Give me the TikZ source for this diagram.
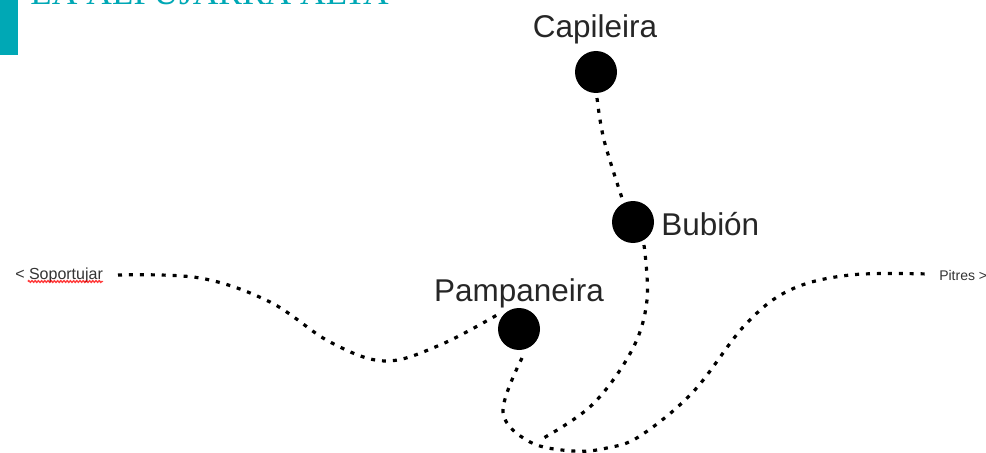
\documentclass[tikz,border=0pt]{standalone}
\usepackage{fontspec}
\setmainfont{Liberation Sans}
\newfontfamily\titlefont{Liberation Serif}
\definecolor{teal}{HTML}{00A8B5}
\usetikzlibrary{decorations.pathmorphing}
\tikzset{
  x=0.75pt,y=-0.75pt,
  town/.style={circle,fill=black,minimum size=31.5pt,inner sep=0pt},
  townlabel/.style={font=\fontsize{23.6}{25}\selectfont,text=black!85,inner sep=0pt},
  sidelabel/.style={font=\fontsize{10.5}{12}\selectfont,text=black!80,inner sep=0pt},
  route/.style={line width=2.4pt,dash pattern=on 3pt off 5.2pt,smooth,tension=0.6},
}
\begin{document}
\begin{tikzpicture}
\useasboundingbox (0,0) rectangle (986,453);
\fill[teal] (0,0) rectangle (18,55);
\begin{scope}
\clip (0,0) rectangle (986,453);
\node[anchor=base west,inner sep=0pt,text=teal,font=\titlefont\fontsize{26.6}{28}\selectfont] (title) at (30,5) {LA ALPUJARRA ALTA};
\end{scope}

\node[town] (cap) at (596,72) {};
\node[town] (bub) at (633,222) {};
\node[town] (pam) at (519,329) {};
\node[townlabel] (capl) at (595,29) {Capileira};
\node[townlabel,anchor=west] (bubl) at (661,224) {Bubión};
\node[townlabel] (paml) at (519,293) {Pampaneira};
\node[sidelabel,anchor=west,font=\fontsize{12}{13}\selectfont] (sop) at (15,275) {< Soportujar};
\node[sidelabel,anchor=west] (pit) at (939,275) {Pitres >};

\draw[red,line width=1.1pt,opacity=.75,decorate,decoration={zigzag,amplitude=.6pt,segment length=2.4pt}]
  (28,281.5) -- (103,281.5);

\coordinate (wa) at (118,275);
\coordinate (wb) at (200,278);
\coordinate (wc) at (270,302);
\coordinate (wd) at (330,342);
\coordinate (we) at (385,361);
\coordinate (wf) at (440,345);
\coordinate (wg) at (497,315);
\draw[route] plot coordinates {(wa) (wb) (wc) (wd) (we) (wf) (wg)};

\coordinate (ca) at (597,98);
\coordinate (cb) at (604,140);
\coordinate (cc) at (622,198);
\draw[route] plot coordinates {(ca) (cb) (cc)};

\coordinate (ba) at (644,245);
\coordinate (bb) at (647,300);
\coordinate (bc) at (632,350);
\coordinate (bd) at (592,405);
\coordinate (be) at (540,440);
\draw[route] plot coordinates {(ba) (bb) (bc) (bd) (be)};

\coordinate (pa) at (522,358);
\coordinate (pb) at (503,412);
\coordinate (pc) at (530,442);
\coordinate (pd) at (573,451);
\coordinate (pe) at (607,448);
\coordinate (pf) at (640,436);
\coordinate (pg) at (693,392);
\coordinate (ph) at (745,325);
\coordinate (pi) at (790,290);
\coordinate (pj) at (850,275);
\coordinate (pk) at (928,274);
\draw[route] plot coordinates {(pa) (pb) (pc) (pd) (pe) (pf) (pg) (ph) (pi) (pj) (pk)};
\end{tikzpicture}
\end{document}
